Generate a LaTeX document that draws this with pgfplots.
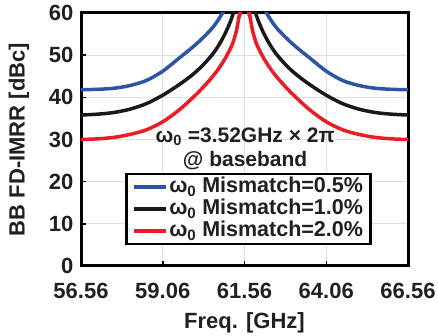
\documentclass[border=0pt]{standalone}
\usepackage{pgfplots}
\pgfplotsset{compat=1.18}
\usepackage{pgfplotstable}
\usepackage{fontspec}
\setmainfont{Liberation Sans}
\definecolor{cblue}{RGB}{46,84,165}
\definecolor{cred}{RGB}{237,28,36}
\definecolor{cblack}{RGB}{25,25,25}
\definecolor{txt}{RGB}{35,31,32}

\pgfplotstableread{
x      blue  black  red
56.56  41.8  35.8   30.0
57.06  41.9  36.0   30.15
57.56  42.15 36.4   30.5
58.06  42.8  37.2   31.2
58.56  44.0  38.5   32.3
59.06  46.2  40.5   34.2
59.56  49.3  43.0   37.0
59.96  51.8  45.3   39.8
60.26  53.9  47.4   42.1
60.56  56.3  50.0   44.7
60.76  58.4  52.2   46.7
60.96  61.0  55.0   49.1
61.11  63.3  57.6   51.3
61.20  64.9  59.5   52.8
61.26  66.5  61.0   54.3
61.31  68.0  62.6   55.7
61.36  70.0  64.5   57.7
61.41  73.0  67.0   60.0
61.46  77.0  71.0   63.0
61.56  95.0  95.0   95.0
61.66  77.0  71.0   63.0
61.71  73.0  67.0   60.0
61.76  70.0  64.5   57.7
61.81  68.0  62.6   55.7
61.86  66.5  61.0   54.3
61.92  64.9  59.5   52.8
62.01  63.3  57.6   51.3
62.16  61.0  55.0   49.1
62.36  58.4  52.2   46.7
62.56  56.3  50.0   44.7
62.86  53.9  47.4   42.1
63.16  51.8  45.3   39.8
63.56  49.3  43.0   37.0
64.06  46.2  40.5   34.2
64.56  44.0  38.5   32.3
65.06  42.8  37.2   31.2
65.56  42.15 36.4   30.5
66.06  41.9  36.0   30.15
66.56  41.8  35.8   30.0
}\data

\begin{document}
\begin{tikzpicture}[font=\fontsize{22}{24}\selectfont\bfseries, text=txt]
\useasboundingbox (0,0) rectangle (438pt,336pt);
\begin{axis}[
  at={(81pt,70pt)}, anchor=south west,
  scale only axis, width=327pt, height=253pt,
  xmin=56.56, xmax=66.56, ymin=0, ymax=60,
  xtick={56.56,59.06,61.56,64.06,66.56},
  xticklabels={56.56,59.06,61.56,64.06,66.56},
  ytick={0,10,20,30,40,50,60},
  yticklabels={0,10,20,30,40,50,60},
  /pgf/number format/assume math mode=true,
  ticklabel style={font=\fontsize{22}{24}\selectfont\bfseries, text=txt},
  yticklabel style={xshift=-4pt},
  xticklabel style={yshift=-14pt},
  xtick pos=bottom, ytick pos=left,
  tick align=inside,
  major tick length=5pt,
  tick style={line width=1.5pt, black},
  grid=major,
  major grid style={draw=gray!25, line width=1pt},
  axis line style={line width=3pt, black},
  xlabel={Freq. [GHz]},
  ylabel={BB FD-IMRR [dBc]},
  xlabel style={at={(axis description cs:0.5,-0.225)}, anchor=center, font=\fontsize{22}{24}\selectfont\bfseries},
  ylabel style={at={(axis description cs:-0.19,0.5)}, anchor=center, font=\fontsize{22}{24}\selectfont\bfseries},
  legend style={at={(axis description cs:0.1346,0.3676)}, anchor=north west,
    draw=black, line width=2.5pt, fill=white,
    font=\fontsize{21.5}{23}\selectfont\bfseries,
    inner xsep=6pt, inner ysep=2pt, row sep=0pt,
    nodes={inner sep=1.5pt, text height=15pt, text depth=4pt}},
  legend cell align=left,
  legend image code/.code={\draw[#1, line width=3.5pt] (0pt,0pt) -- (32pt,0pt);},
]
\addplot[cblue, line width=3.5pt, smooth] table[x=x, y=blue] {\data};
\addlegendentry{ω\textsubscript{0} Mismatch=0.5\%}
\addplot[cblack, line width=3.5pt, smooth] table[x=x, y=black] {\data};
\addlegendentry{ω\textsubscript{0} Mismatch=1.0\%}
\addplot[cred, line width=3.5pt, smooth] table[x=x, y=red] {\data};
\addlegendentry{ω\textsubscript{0} Mismatch=2.0\%}
\node[font=\fontsize{21}{23}\selectfont\bfseries] at (axis cs:61.58,30.6) {ω\textsubscript{0} =3.52GHz × 2π};
\node[font=\fontsize{21}{23}\selectfont\bfseries] at (axis cs:61.58,25.1) {@ baseband};
\end{axis}
\end{tikzpicture}
\end{document}
